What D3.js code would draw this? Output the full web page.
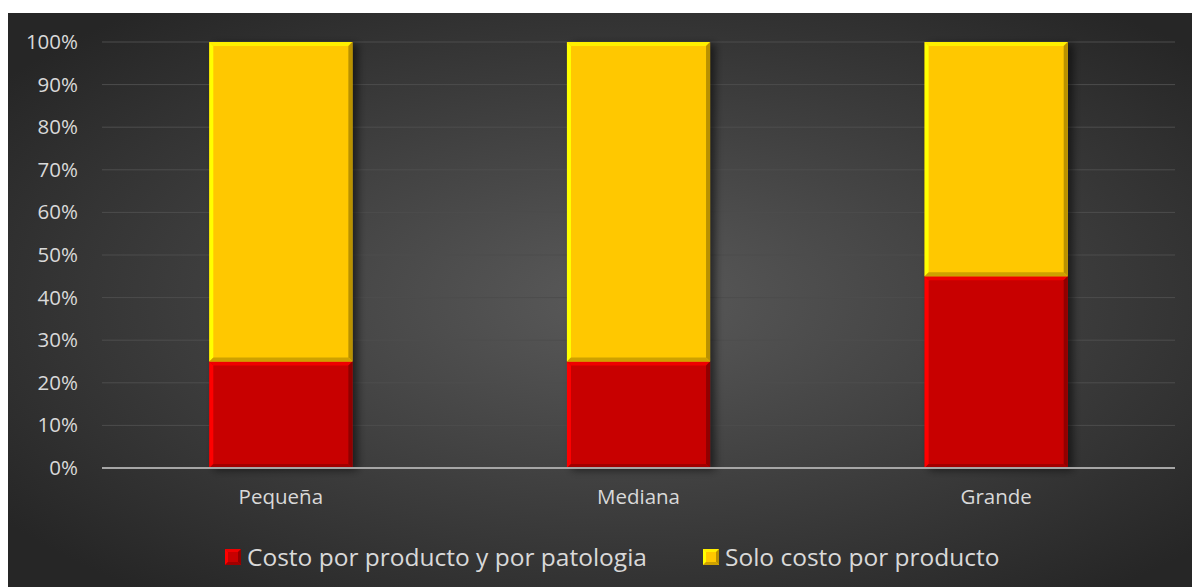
<!DOCTYPE html>
<html>
<head>
<meta charset="utf-8">
<script src="https://cdn.jsdelivr.net/npm/d3@7"></script>
<style>
  html, body { margin: 0; padding: 0; background: #ffffff; }
  svg { display: block; }
  text { font-family: "Open Sans", "Noto Sans", "Liberation Sans", sans-serif; }
</style>
</head>
<body>
<svg id="chart" width="1192" height="587"></svg>
<script>
// Share of each cost approach by company size (100% stacked)
const categories = ["Pequeña", "Mediana", "Grande"];
const seriesNames = ["Costo por producto y por patologia", "Solo costo por producto"];
const costoProductoPatologia = [25, 25, 45];
const soloCostoProducto = [75, 75, 55];
const tickValues = [0, 10, 20, 30, 40, 50, 60, 70, 80, 90, 100];
const seriesColors = ["#c80000", "#ffc800"];

const W = 1192, H = 587;
const svg = d3.select("#chart");
const defs = svg.append("defs");

// Panel background with soft radial light
const rg = defs.append("radialGradient").attr("id", "bg")
  .attr("cx", "52%").attr("cy", "50%").attr("r", "65%");
rg.append("stop").attr("offset", "0%").attr("stop-color", "#5a5a5a");
rg.append("stop").attr("offset", "100%").attr("stop-color", "#262626");

const shadow = defs.append("filter").attr("id", "shadow")
  .attr("x", "-20%").attr("y", "-5%").attr("width", "150%").attr("height", "115%");
shadow.append("feGaussianBlur").attr("in", "SourceAlpha").attr("stdDeviation", 4);
shadow.append("feOffset").attr("dx", 5).attr("dy", 2).attr("result", "ob");
shadow.append("feComponentTransfer").append("feFuncA").attr("type", "linear").attr("slope", 0.55);
const merge = shadow.append("feMerge");
merge.append("feMergeNode");
merge.append("feMergeNode").attr("in", "SourceGraphic");

svg.append("rect").attr("x", 8).attr("y", 13).attr("width", W - 8).attr("height", H - 13)
  .attr("fill", "url(#bg)");

const margin = { left: 102, right: 17, top: 42, bottom: 119 };
const plotW = W - margin.left - margin.right;
const plotH = H - margin.top - margin.bottom;

const x = d3.scaleBand().domain(categories).range([margin.left, margin.left + plotW])
  .paddingInner(0.6).paddingOuter(0.3);
const y = d3.scaleLinear().domain([0, 100]).range([margin.top + plotH, margin.top]);

// Gridlines
svg.append("g").selectAll("line").data(tickValues.filter(v => v > 0)).join("line")
  .attr("x1", margin.left).attr("x2", margin.left + plotW)
  .attr("y1", d => y(d)).attr("y2", d => y(d))
  .attr("stroke", "#4d4d4d").attr("stroke-width", 1);

// Y axis labels
const yAxis = d3.axisLeft(y).tickValues(tickValues).tickFormat(d => d + "%").tickSize(0).tickPadding(24);
const gy = svg.append("g").attr("transform", `translate(${margin.left},0)`).call(yAxis);
gy.select(".domain").remove();
gy.selectAll("text").attr("fill", "#d9d9d9").attr("font-size", 20.5).attr("font-family", null);

// Stacked bars
const rows = categories.map((c, i) => ({ cat: c, s0: costoProductoPatologia[i], s1: soloCostoProducto[i] }));
const stack = d3.stack().keys(["s0", "s1"])(rows);

function bevelBar(g, x0, y0, w, h, color, b = 4) {
  const c = d3.color(color);
  g.append("rect").attr("x", x0).attr("y", y0).attr("width", w).attr("height", h).attr("fill", color);
  // top highlight
  g.append("polygon").attr("points", `${x0},${y0} ${x0 + w},${y0} ${x0 + w - b},${y0 + b} ${x0 + b},${y0 + b}`)
    .attr("fill", c.brighter(0.5));
  // left highlight
  g.append("polygon").attr("points", `${x0},${y0} ${x0 + b},${y0 + b} ${x0 + b},${y0 + h - b} ${x0},${y0 + h}`)
    .attr("fill", c.brighter(0.7));
  // right shade
  g.append("polygon").attr("points", `${x0 + w},${y0} ${x0 + w},${y0 + h} ${x0 + w - b},${y0 + h - b} ${x0 + w - b},${y0 + b}`)
    .attr("fill", c.darker(0.9));
  // bottom shade
  g.append("polygon").attr("points", `${x0},${y0 + h} ${x0 + b},${y0 + h - b} ${x0 + w - b},${y0 + h - b} ${x0 + w},${y0 + h}`)
    .attr("fill", c.darker(0.6));
}

const barsG = svg.append("g");
rows.forEach((r, i) => {
  const g = barsG.append("g").attr("filter", "url(#shadow)");
  stack.forEach((layer, k) => {
    const d = layer[i];
    bevelBar(g, x(r.cat), y(d[1]), x.bandwidth(), y(d[0]) - y(d[1]), seriesColors[k]);
  });
});

// Baseline
svg.append("line").attr("x1", margin.left).attr("x2", margin.left + plotW)
  .attr("y1", y(0)).attr("y2", y(0)).attr("stroke", "#a6a6a6").attr("stroke-width", 2);

// Category labels
const xAxis = d3.axisBottom(x).tickSize(0).tickPadding(21);
const gx = svg.append("g").attr("transform", `translate(0,${y(0)})`).call(xAxis);
gx.select(".domain").remove();
gx.selectAll("text").attr("fill", "#d9d9d9").attr("font-size", 20.5).attr("font-family", null);

// Legend
const legend = svg.append("g").attr("transform", "translate(225,556)");
const legendX = [0, 478];
seriesNames.forEach((name, k) => {
  const lg = legend.append("g").attr("transform", `translate(${legendX[k]},0)`);
  bevelBar(lg, 0, -7, 16, 16, seriesColors[k], 3);
  lg.append("text").attr("x", 22).attr("y", 1).attr("dy", "0.35em")
    .attr("fill", "#d9d9d9").attr("font-size", 24.5).text(name);
});
</script>
</body>
</html>
